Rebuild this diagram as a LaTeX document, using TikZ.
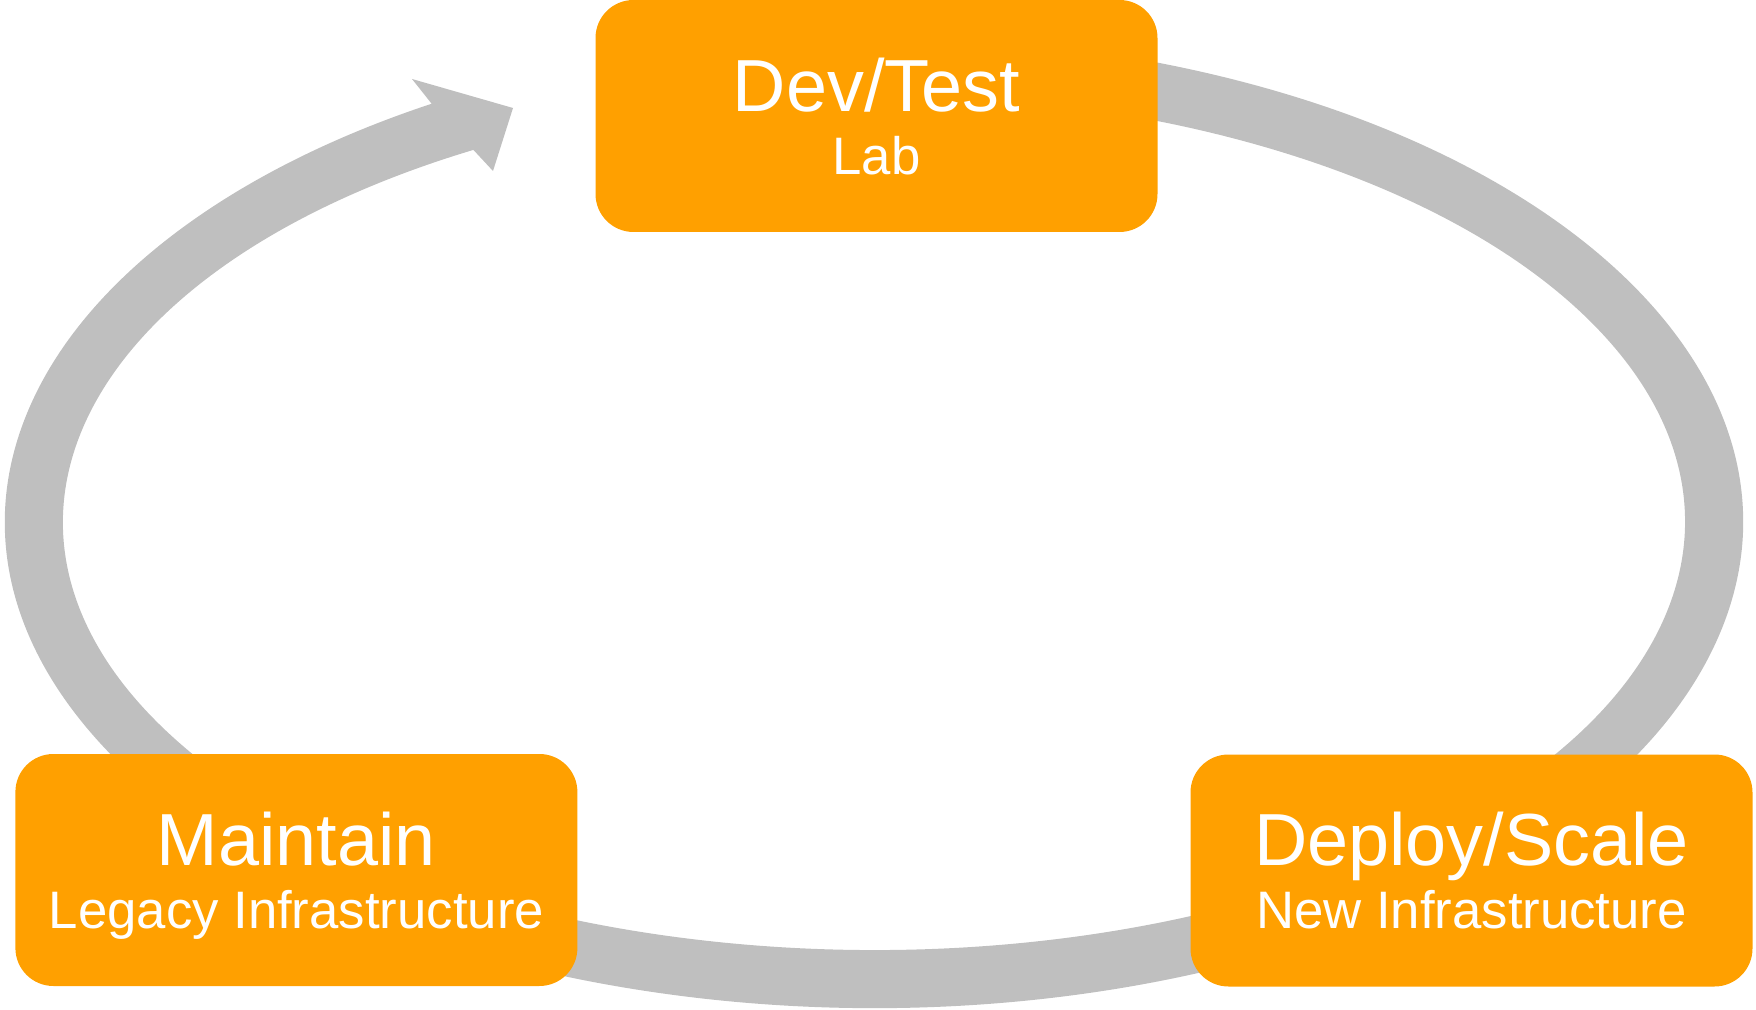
\documentclass[tikz,border=0pt]{standalone}
\usepackage{fontspec}
\setmainfont{Liberation Sans}
\definecolor{boxorange}{RGB}{255,160,0}
\definecolor{ringgray}{RGB}{191,191,191}
\tikzset{
  stage/.style={rectangle, rounded corners=3.8mm, fill=boxorange, text=white,
    minimum width=56.2mm, minimum height=23.2mm, align=center, inner sep=0pt,
    text depth=0pt, font=\fontsize{21}{17.8}\selectfont},
}
\newcommand{\stagesub}{\fontsize{15}{18}\selectfont}

\begin{document}
\begin{tikzpicture}[x=0.1mm, y=0.1mm]
    \useasboundingbox (0,0) rectangle (1756,1009);

    % Points of the arrow head
    \coordinate (ringstart) at (1098.9,956.4);
    \coordinate (headtop) at (412,930);
    \coordinate (headtip) at (513,901);
    \coordinate (headbot) at (493,838);
    \coordinate (shaftin) at (473.4,859.1);

    % Draw the cycle ring with its head as one shape
    \fill[ringgray] (ringstart)
        arc[start angle=75, end angle=-239.4, x radius=869, y radius=486]
        -- (headtop) -- (headtip) -- (headbot) -- (shaftin)
        arc[start angle=-240.4, end angle=75, x radius=811, y radius=428] -- cycle;

    % Define nodes for the stages
    \node at (876.5, 893) (devtest) [stage] {Dev/Test\\{\stagesub Lab}};
    \node at (296.4, 139) (maintain) [stage] {Maintain\\{\stagesub Legacy Infrastructure}};
    \node at (1471.5, 138.5) (deploy) [stage] {Deploy/Scale\\{\stagesub New Infrastructure}};
\end{tikzpicture}
\end{document}
